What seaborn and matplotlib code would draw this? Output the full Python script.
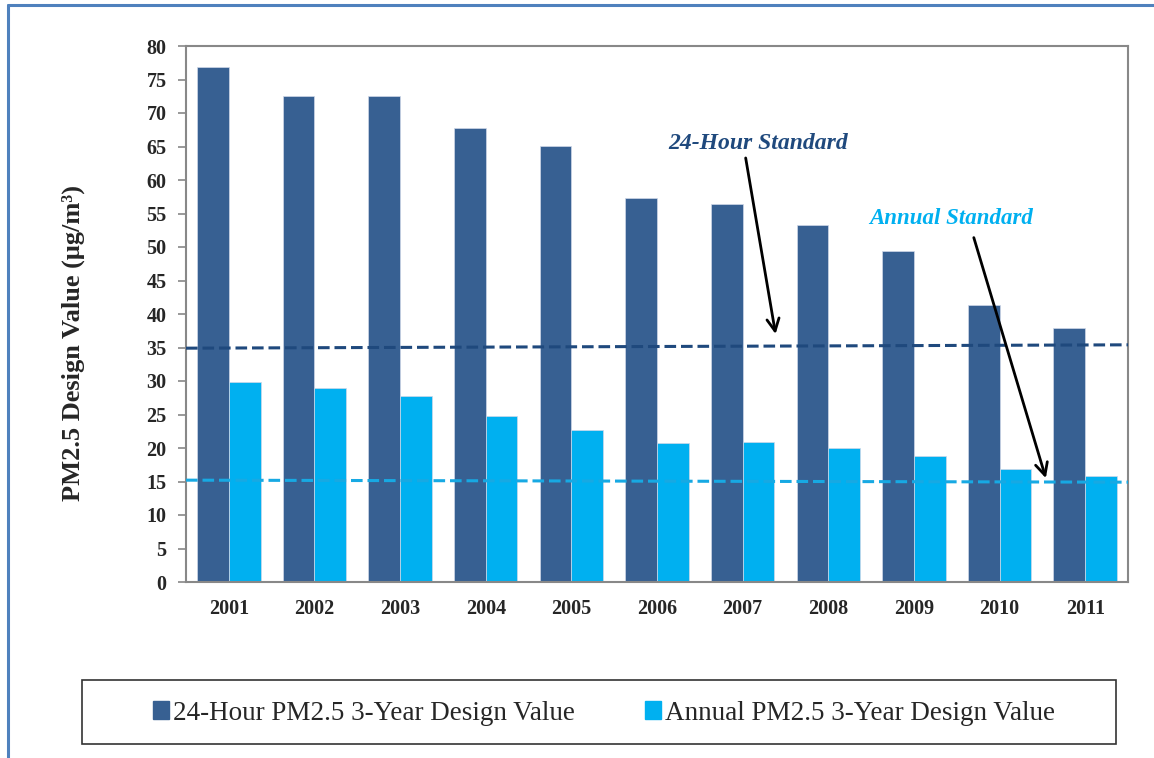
import numpy as np
import pandas as pd
import seaborn as sns
import matplotlib.pyplot as plt
from matplotlib.patches import Rectangle, Patch
from matplotlib.lines import Line2D

# data
years = ['2001', '2002', '2003', '2004', '2005', '2006', '2007', '2008', '2009', '2010', '2011']
dv_24hr = [76.8, 72.5, 72.5, 67.8, 65.1, 57.3, 56.4, 53.3, 49.4, 41.4, 37.9]
dv_annual = [29.9, 29.0, 27.8, 24.8, 22.7, 20.7, 20.9, 20.0, 18.8, 16.8, 15.8]
series_names = ['24-Hour PM2.5 3-Year Design Value', 'Annual PM2.5 3-Year Design Value']
std_24hr = [34.9, 35.4]     # dashed line, left and right end
std_annual = [15.2, 14.9]

dark_blue = '#376092'
light_blue = '#00B0F0'

df = pd.DataFrame({'Year': years * 2,
                   'Value': dv_24hr + dv_annual,
                   'Series': [series_names[0]] * len(years) + [series_names[1]] * len(years)})

sns.set_style('white')
plt.rcParams['font.family'] = ['Liberation Serif', 'DejaVu Serif']

fig = plt.figure(figsize=(11.54, 7.58), dpi=100)
ax = fig.add_axes([186/1154, 1-582/758, 942/1154, 536/758])

sns.barplot(data=df, x='Year', y='Value', hue='Series', palette=[dark_blue, light_blue],
            width=0.74, saturation=1, legend=False, linewidth=0.5, edgecolor='#d0d8e8', ax=ax)

# standard lines
ax.plot([-0.5, 10.5], std_24hr, color='#1F497D', lw=2.2, ls=(0, (3.8, 1.6)), zorder=3)
ax.plot([-0.5, 10.5], std_annual, color='#17A9E3', lw=2.2, ls=(0, (3.8, 1.6)), zorder=3)

# annotations
ax.text(6.18, 65.5, '24-Hour Standard', color='#1F497D', fontsize=17, fontweight='bold',
        fontstyle='italic', ha='center', va='center')
ax.annotate('', xy=(6.39, 36.6), xytext=(6.03, 63.7),
            arrowprops=dict(arrowstyle='->', color='black', lw=2, mutation_scale=22))
ax.text(8.43, 54.3, 'Annual Standard', color=light_blue, fontsize=16.5, fontweight='bold',
        fontstyle='italic', ha='center', va='center')
ax.annotate('', xy=(9.55, 15.1), xytext=(8.69, 51.8),
            arrowprops=dict(arrowstyle='->', color='black', lw=2, mutation_scale=22))

ax.set_xlim(-0.5, 10.5)
ax.set_ylim(0, 80)
ax.set_yticks(np.arange(0, 81, 5))
ax.set_xlabel('')
ax.set_ylabel('')
fig.text(73/1154, 1-343/758, 'PM2.5 Design Value (μg/m³)', fontsize=19, fontweight='bold',
         rotation=90, ha='center', va='center')
for lab in ax.get_xticklabels() + ax.get_yticklabels():
    lab.set_fontweight('bold')
    lab.set_fontsize(14.5)

ax.set_xticks(np.arange(-0.5, 11, 1), minor=True)
ax.tick_params(axis='x', which='major', length=0, pad=12)
ax.tick_params(axis='x', which='minor', length=10, width=1.2, color='#888888', direction='inout')
ax.tick_params(axis='y', length=6, width=1.2, color='#888888', direction='out', left=True, pad=8)
for s in ax.spines.values():
    s.set_color('#888888')
    s.set_linewidth(1.5)

# outer chart frame
fig.add_artist(Line2D([8/1154, 1], [1-5/758, 1-5/758], color='#4F81BD', lw=2.2, transform=fig.transFigure))
fig.add_artist(Line2D([8/1154, 8/1154], [0, 1-5/758], color='#4F81BD', lw=2.2, transform=fig.transFigure))

# legend box
fig.add_artist(Rectangle((82/1154, 1-744/758), 1034/1154, 64/758, transform=fig.transFigure,
                         fill=False, edgecolor='#333333', lw=1.2))
handles = [Patch(color=dark_blue), Patch(color=light_blue)]
fig.legend(handles, series_names, loc='center', bbox_to_anchor=(604/1154, 1-713/758), ncol=2,
           frameon=False, fontsize=19.5, handlelength=0.6, handleheight=0.6, handletextpad=0.15,
           columnspacing=2.6)

fig.savefig('out.png', dpi=100)
